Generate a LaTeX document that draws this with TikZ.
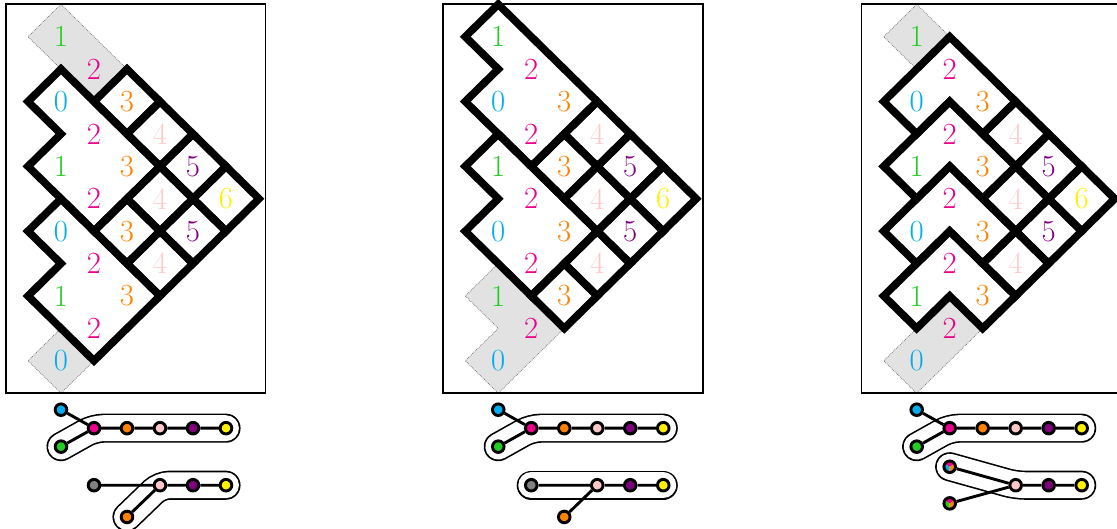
\documentclass[tikz,border=0pt]{standalone}
\usepackage{fontspec}
\usepackage{tikz}
\usepackage{xcolor}
\usetikzlibrary{positioning,calc}
\definecolor{lab0}{RGB}{0,174,239}
\definecolor{lab1}{RGB}{35,205,35}
\definecolor{lab2}{RGB}{236,0,140}
\definecolor{lab3}{RGB}{255,130,0}
\definecolor{lab4}{RGB}{255,200,200}
\definecolor{lab5}{RGB}{128,0,128}
\definecolor{lab6}{RGB}{255,240,0}
\definecolor{labg}{RGB}{128,128,128}
\definecolor{shadegray}{RGB}{226,226,226}
\pgfdeclarelayer{background}
\pgfsetlayers{background,main}

\begin{document}
\begin{tikzpicture}[x=1cm,y=-0.982cm,
    frame/.style={line width=1.4pt},
    cellline/.style={line width=6.6pt},
    shaded/.style={fill=shadegray,draw=black!60,densely dotted,line width=0.6pt},
    num/.style={text=lab#1,font=\fontsize{26.5}{30}\selectfont,inner sep=0pt},
    vtx/.style={circle,draw,line width=2.5pt,minimum size=10pt,inner sep=0pt,fill=lab#1},
    pievtx/.style={circle,draw,line width=2.5pt,minimum size=10pt,inner sep=0pt,
      path picture={
        \fill[lab2] (path picture bounding box.center) -- ++(30:7pt) arc[start angle=30,end angle=150,radius=7pt] -- cycle;
        \fill[lab#1] (path picture bounding box.center) -- ++(150:7pt) arc[start angle=150,end angle=270,radius=7pt] -- cycle;
        \fill[lab3] (path picture bounding box.center) -- ++(270:7pt) arc[start angle=270,end angle=390,radius=7pt] -- cycle;}},
    link/.style={line width=2.5pt},
    hull/.style={line width=1.4pt,double=white,double distance=22.3pt,line cap=round,rounded corners=8pt}]
  \useasboundingbox (-1.8485,-0.1327) rectangle (32.0,16.164);

  % panel 1: shading and outlines
  \draw[shaded] (0,0) -- (2,2) -- (1,3) -- (-1,1) -- cycle;
  \draw[shaded] (0,10) -- (1,11) -- (0,12) -- (-1,11) -- cycle;
  \draw[cellline] (0,2) -- (3,5) -- (1,7) -- (-1,5) -- (0,4) -- (-1,3) -- cycle;
  \draw[cellline] (0,6) -- (3,9) -- (1,11) -- (-1,9) -- (0,8) -- (-1,7) -- cycle;
  \foreach \c/\r in {2/3,3/4,4/5,5/6,3/6,4/7,2/7,3/8}
    \draw[cellline] (\c-1,\r) -- (\c,\r-1) -- (\c+1,\r) -- (\c,\r+1) -- cycle;

  % panel 2
  \begin{scope}[xshift=13.25cm]
    \draw[shaded] (0,8) -- (2,10) -- (0,12) -- (-1,11) -- (0,10) -- (-1,9) -- cycle;
    \draw[cellline] (0,0) -- (3,3) -- (1,5) -- (-1,3) -- (0,2) -- (-1,1) -- cycle;
    \draw[cellline] (0,4) -- (3,7) -- (1,9) -- (-1,7) -- (0,6) -- (-1,5) -- cycle;
    \foreach \c/\r in {3/4,2/5,4/5,5/6,3/6,4/7,3/8,2/9}
      \draw[cellline] (\c-1,\r) -- (\c,\r-1) -- (\c+1,\r) -- (\c,\r+1) -- cycle;
  \end{scope}

  % panel 3
  \begin{scope}[xshift=25.93cm]
    \draw[shaded] (0,0) -- (1,1) -- (0,2) -- (-1,1) -- cycle;
    \draw[shaded] (1,9) -- (2,10) -- (0,12) -- (-1,11) -- cycle;
    \foreach \k in {0,2,4,6}
      \draw[cellline] (1,1+\k) -- (3,3+\k) -- (2,4+\k) -- (1,3+\k) -- (0,4+\k) -- (-1,3+\k) -- cycle;
    \foreach \c/\r in {3/4,4/5,5/6,3/6,4/7,3/8}
      \draw[cellline] (\c-1,\r) -- (\c,\r-1) -- (\c+1,\r) -- (\c,\r+1) -- cycle;
  \end{scope}

  % frames, numbers and upper graph, same in all panels
  \foreach \sx/\pn in {0/1,13.25/2,25.93/3} {
    \begin{scope}[xshift=\sx cm]
      \draw[frame] (-1.67,0) rectangle (6.2,12);
      \foreach \c/\r/\t in {0/1/1,0/3/0,0/5/1,0/7/0,0/9/1,0/11/0,
          1/2/2,1/4/2,1/6/2,1/8/2,1/10/2,2/3/3,2/5/3,2/7/3,2/9/3,
          3/4/4,3/6/4,3/8/4,4/5/5,4/7/5,5/6/6}
        \node[num=\t] (n\pn-\c-\r) at (\c,\r) {\t};
      \node[vtx=0] (t\pn-b) at (0,12.51) {};
      \node[vtx=1] (t\pn-g) at (0,13.65) {};
      \node[vtx=2] (t\pn-m) at (1,13.08) {};
      \node[vtx=3] (t\pn-o) at (2,13.08) {};
      \node[vtx=4] (t\pn-p) at (3,13.08) {};
      \node[vtx=5] (t\pn-v) at (4,13.08) {};
      \node[vtx=6] (t\pn-y) at (5,13.08) {};
      \begin{pgfonlayer}{background}
        \draw[hull] (t\pn-g.center) -- (t\pn-m.center) -- (t\pn-y.center);
      \end{pgfonlayer}
      \draw[link] (t\pn-b) -- (t\pn-m) -- (t\pn-o) -- (t\pn-p) -- (t\pn-v) -- (t\pn-y)
        (t\pn-g) -- (t\pn-m);
    \end{scope}
  }

  % lower graphs
  \node[vtx=g] (b1-k) at (1,14.84) {};
  \node[vtx=4] (b1-p) at (3,14.84) {};
  \node[vtx=5] (b1-v) at (4,14.84) {};
  \node[vtx=6] (b1-y) at (5,14.84) {};
  \node[vtx=3] (b1-o) at (2,15.82) {};
  \begin{pgfonlayer}{background}
    \draw[hull] (b1-o.center) -- (b1-p.center) -- (b1-y.center);
  \end{pgfonlayer}
  \draw[link] (b1-k) -- (b1-p) -- (b1-v) -- (b1-y) (b1-p) -- (b1-o);

  \begin{scope}[xshift=13.25cm]
    \node[vtx=g] (b2-k) at (1,14.84) {};
    \node[vtx=4] (b2-p) at (3,14.84) {};
    \node[vtx=5] (b2-v) at (4,14.84) {};
    \node[vtx=6] (b2-y) at (5,14.84) {};
    \node[vtx=3] (b2-o) at (2,15.82) {};
    \begin{pgfonlayer}{background}
      \draw[hull] (b2-k.center) -- (b2-y.center);
    \end{pgfonlayer}
    \draw[link] (b2-k) -- (b2-p) -- (b2-v) -- (b2-y) (b2-p) -- (b2-o);
  \end{scope}

  \begin{scope}[xshift=25.93cm]
    \node[pievtx=0] (b3-a) at (1,14.27) {};
    \node[pievtx=1] (b3-c) at (1,15.40) {};
    \node[vtx=4] (b3-p) at (3,14.84) {};
    \node[vtx=5] (b3-v) at (4,14.84) {};
    \node[vtx=6] (b3-y) at (5,14.84) {};
    \begin{pgfonlayer}{background}
      \draw[hull] (b3-a.center) -- (b3-p.center) -- (b3-y.center);
    \end{pgfonlayer}
    \draw[link] (b3-a) -- (b3-p) -- (b3-v) -- (b3-y) (b3-c) -- (b3-p);
  \end{scope}
\end{tikzpicture}
\end{document}
